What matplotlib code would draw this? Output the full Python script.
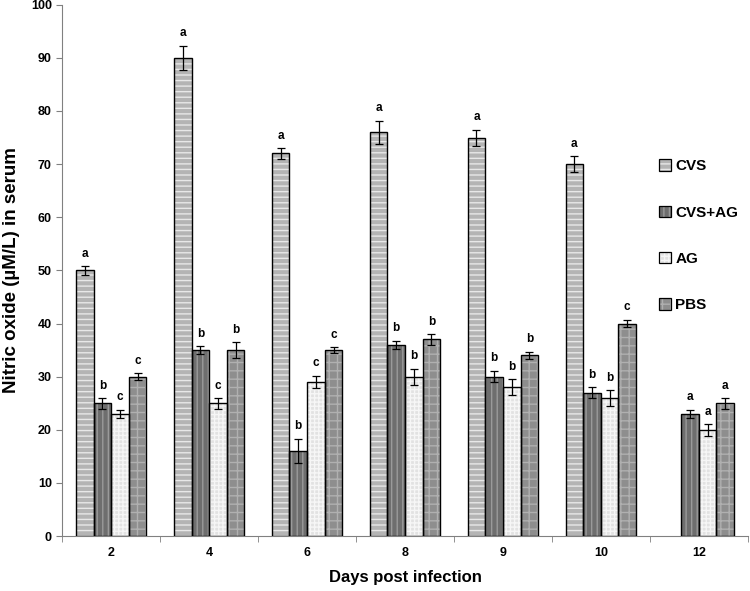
import matplotlib
matplotlib.use("Agg")
import matplotlib.pyplot as plt
import numpy as np
from matplotlib.patches import Patch

plt.rcParams['font.family'] = ['Liberation Sans', 'DejaVu Sans']
plt.rcParams['hatch.linewidth'] = 1.0

days = ["2", "4", "6", "8", "9", "10", "12"]
series = ["CVS", "CVS+AG", "AG", "PBS"]
cvs = [50, 90, 72, 76, 75, 70, np.nan]
cvs_ag = [25, 35, 16, 36, 30, 27, 23]
ag = [23, 25, 29, 30, 28, 26, 20]
pbs = [30, 35, 35, 37, 34, 40, 25]
cvs_err = [0.8, 2.3, 1.0, 2.2, 1.5, 1.5, np.nan]
cvs_ag_err = [1.0, 0.7, 2.3, 0.8, 1.1, 1.0, 0.8]
ag_err = [0.8, 1.0, 1.2, 1.5, 1.5, 1.5, 1.1]
pbs_err = [0.6, 1.5, 0.6, 1.0, 0.7, 0.7, 1.0]
cvs_lbl = ["a", "a", "a", "a", "a", "a", ""]
cvs_ag_lbl = ["b", "b", "b", "b", "b", "b", "a"]
ag_lbl = ["c", "c", "c", "b", "b", "b", "a"]
pbs_lbl = ["c", "b", "c", "b", "b", "c", "a"]

values = [cvs, cvs_ag, ag, pbs]
errs = [cvs_err, cvs_ag_err, ag_err, pbs_err]
lbls = [cvs_lbl, cvs_ag_lbl, ag_lbl, pbs_lbl]
faces = ["#b4b4b4", "#6e6e6e", "#e2e2e2", "#8e8e8e"]
hatches = ["---", "|||", "++++", "++"]
hcols = ["#e8e8e8", "#9a9a9a", "#f6f6f6", "#b0b0b0"]

fig = plt.figure(figsize=(7.5, 5.91), dpi=100)
ax = fig.add_axes([0.083, 0.093, 0.914, 0.899])

x = np.arange(len(days))
w = 0.18
for i, (v, e, l) in enumerate(zip(values, errs, lbls)):
    pos = x + (i - 1.5) * w
    ax.bar(pos, v, w, color=faces[i], hatch=hatches[i], edgecolor=hcols[i], linewidth=0, zorder=2)
    ax.bar(pos, v, w, facecolor='none', edgecolor='black', linewidth=1.0, zorder=3)
    ax.errorbar(pos, v, yerr=e, fmt='none', ecolor='black', elinewidth=0.9, capsize=3,
                capthick=0.9, zorder=4)
    for p, val, er, t in zip(pos, v, e, l):
        if t and not np.isnan(val):
            ax.text(p, val + er + 1.2, t, ha='center', va='bottom', fontsize=8.5,
                    fontweight='bold')

handles = [(Patch(facecolor=faces[i], edgecolor=hcols[i], hatch=hatches[i], linewidth=0),
            Patch(facecolor='none', edgecolor='black', linewidth=0.9))
           for i in range(4)]
ax.legend(handles, series, loc='upper left', bbox_to_anchor=(0.85, 0.735),
          frameon=False, labelspacing=2.1, handlelength=0.8, handleheight=0.8,
          handletextpad=0.3, prop={'weight': 'bold', 'size': 11})

ax.set_xlim(-0.5, len(days) - 0.5)
ax.set_ylim(0, 100)
ax.set_yticks(np.arange(0, 101, 10))
ax.set_xticks(x)
ax.set_xticklabels(days, fontweight='bold', fontsize=9)
ax.set_xticks(np.arange(-0.5, len(days), 1), minor=True)
ax.tick_params(axis='x', which='major', length=0, pad=8)
ax.tick_params(axis='x', which='minor', length=4, color='#808080')
ax.tick_params(axis='y', length=4, color='#808080', labelsize=9)
for t in ax.get_yticklabels():
    t.set_fontweight('bold')
for s in ['top', 'right']:
    ax.spines[s].set_visible(False)
for s in ['left', 'bottom']:
    ax.spines[s].set_color('#808080')
ax.set_ylabel("Nitric oxide (µM/L) in serum", fontsize=13.5, fontweight='bold', labelpad=8)
ax.set_xlabel("Days post infection", fontsize=12, fontweight='bold', labelpad=8)

fig.savefig("out.png", dpi=100)
